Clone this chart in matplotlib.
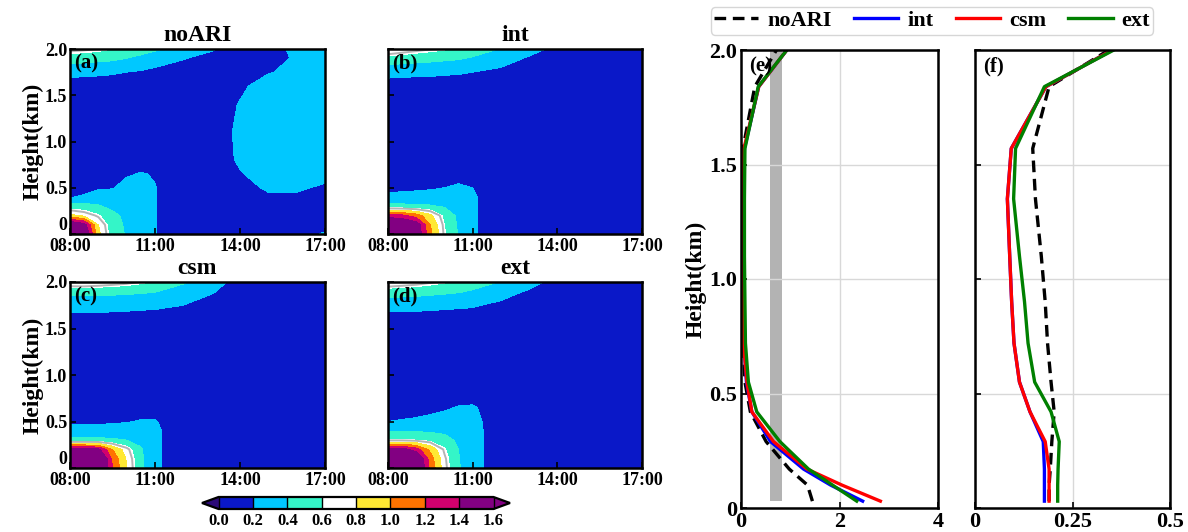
import numpy as np
import matplotlib
matplotlib.use('Agg')
import matplotlib.pyplot as plt
from matplotlib.colors import ListedColormap, BoundaryNorm

plt.rcParams['font.family'] = ['Liberation Serif', 'DejaVu Serif']
plt.rcParams['font.weight'] = 'bold'

# ---- contour panels: time (h) x height (km) ----
hours = [8, 8.5, 9, 9.5, 10, 10.5, 11, 12, 13, 14, 15, 16, 17]
zgrid = [0.0, 0.1, 0.2, 0.3, 0.4, 0.5, 0.65, 0.8, 1.1, 1.4, 1.6, 1.75, 1.9, 2.0]

noari_field = [
    [1.8, 1.7, 0.85, 0.5, 0.38, 0.3, 0.205, 0.1, 0.1, 0.1, 0.12, 0.12, 0.22],
    [1.7, 1.5, 0.8, 0.48, 0.37, 0.3, 0.205, 0.1, 0.1, 0.1, 0.12, 0.12, 0.14],
    [0.85, 0.75, 0.62, 0.45, 0.35, 0.29, 0.205, 0.1, 0.1, 0.11, 0.13, 0.13, 0.13],
    [0.5, 0.48, 0.42, 0.35, 0.32, 0.28, 0.205, 0.1, 0.1, 0.12, 0.15, 0.16, 0.14],
    [0.19, 0.22, 0.28, 0.27, 0.3, 0.28, 0.205, 0.1, 0.1, 0.13, 0.18, 0.18, 0.16],
    [0.15, 0.15, 0.18, 0.19, 0.26, 0.27, 0.205, 0.1, 0.1, 0.15, 0.22, 0.22, 0.18],
    [0.12, 0.12, 0.13, 0.15, 0.18, 0.21, 0.19, 0.1, 0.11, 0.19, 0.26, 0.27, 0.24],
    [0.1, 0.1, 0.1, 0.1, 0.12, 0.12, 0.1, 0.1, 0.12, 0.22, 0.28, 0.3, 0.28],
    [0.1, 0.1, 0.1, 0.1, 0.1, 0.1, 0.1, 0.1, 0.12, 0.23, 0.3, 0.32, 0.3],
    [0.1, 0.1, 0.1, 0.1, 0.1, 0.1, 0.1, 0.1, 0.11, 0.21, 0.3, 0.32, 0.3],
    [0.12, 0.12, 0.12, 0.11, 0.1, 0.1, 0.1, 0.1, 0.1, 0.17, 0.27, 0.3, 0.3],
    [0.25, 0.24, 0.23, 0.22, 0.2, 0.18, 0.15, 0.12, 0.1, 0.12, 0.19, 0.24, 0.28],
    [0.5, 0.48, 0.46, 0.44, 0.4, 0.36, 0.3, 0.21, 0.14, 0.1, 0.17, 0.21, 0.27],
    [0.7, 0.68, 0.65, 0.6, 0.52, 0.47, 0.43, 0.33, 0.22, 0.1, 0.15, 0.23, 0.27],
]

int_field = [
    [1.8, 1.75, 1.6, 1.05, 0.62, 0.38, 0.22, 0.1, 0.1, 0.1, 0.1, 0.1, 0.1],
    [1.75, 1.7, 1.55, 1.0, 0.6, 0.37, 0.22, 0.1, 0.1, 0.1, 0.1, 0.1, 0.1],
    [1.3, 1.25, 1.1, 0.85, 0.55, 0.35, 0.22, 0.1, 0.1, 0.1, 0.1, 0.1, 0.1],
    [0.45, 0.45, 0.44, 0.42, 0.38, 0.32, 0.22, 0.1, 0.1, 0.1, 0.1, 0.1, 0.1],
    [0.25, 0.25, 0.26, 0.27, 0.27, 0.26, 0.22, 0.1, 0.1, 0.1, 0.1, 0.1, 0.1],
    [0.15, 0.16, 0.17, 0.18, 0.2, 0.22, 0.2, 0.1, 0.1, 0.1, 0.1, 0.1, 0.1],
    [0.1, 0.1, 0.11, 0.12, 0.13, 0.15, 0.14, 0.1, 0.1, 0.1, 0.1, 0.1, 0.1],
    [0.1, 0.1, 0.1, 0.1, 0.1, 0.1, 0.1, 0.1, 0.1, 0.1, 0.1, 0.1, 0.1],
    [0.1, 0.1, 0.1, 0.1, 0.1, 0.1, 0.1, 0.1, 0.1, 0.1, 0.1, 0.1, 0.1],
    [0.1, 0.1, 0.1, 0.1, 0.1, 0.1, 0.1, 0.1, 0.1, 0.1, 0.1, 0.1, 0.1],
    [0.12, 0.12, 0.12, 0.11, 0.1, 0.1, 0.1, 0.1, 0.1, 0.1, 0.1, 0.1, 0.1],
    [0.26, 0.25, 0.24, 0.24, 0.23, 0.22, 0.2, 0.16, 0.1, 0.1, 0.1, 0.1, 0.1],
    [0.52, 0.5, 0.48, 0.46, 0.44, 0.42, 0.38, 0.28, 0.18, 0.1, 0.1, 0.1, 0.1],
    [0.82, 0.75, 0.7, 0.66, 0.62, 0.56, 0.5, 0.39, 0.27, 0.15, 0.1, 0.1, 0.1],
]

csm_field = [
    [1.9, 1.9, 1.85, 1.2, 0.8, 0.45, 0.23, 0.1, 0.1, 0.1, 0.1, 0.1, 0.1],
    [1.85, 1.85, 1.8, 1.15, 0.78, 0.44, 0.23, 0.1, 0.1, 0.1, 0.1, 0.1, 0.1],
    [1.5, 1.5, 1.45, 1.0, 0.7, 0.42, 0.23, 0.1, 0.1, 0.1, 0.1, 0.1, 0.1],
    [0.45, 0.45, 0.45, 0.43, 0.4, 0.35, 0.23, 0.1, 0.1, 0.1, 0.1, 0.1, 0.1],
    [0.26, 0.26, 0.26, 0.27, 0.27, 0.27, 0.23, 0.1, 0.1, 0.1, 0.1, 0.1, 0.1],
    [0.17, 0.17, 0.17, 0.18, 0.19, 0.21, 0.21, 0.1, 0.1, 0.1, 0.1, 0.1, 0.1],
    [0.12, 0.12, 0.12, 0.12, 0.13, 0.14, 0.14, 0.1, 0.1, 0.1, 0.1, 0.1, 0.1],
    [0.1, 0.1, 0.1, 0.1, 0.1, 0.1, 0.1, 0.1, 0.1, 0.1, 0.1, 0.1, 0.1],
    [0.1, 0.1, 0.1, 0.1, 0.1, 0.1, 0.1, 0.1, 0.1, 0.1, 0.1, 0.1, 0.1],
    [0.1, 0.1, 0.1, 0.1, 0.1, 0.1, 0.1, 0.1, 0.1, 0.1, 0.1, 0.1, 0.1],
    [0.13, 0.13, 0.13, 0.12, 0.12, 0.11, 0.11, 0.1, 0.1, 0.1, 0.1, 0.1, 0.1],
    [0.28, 0.28, 0.28, 0.27, 0.26, 0.25, 0.24, 0.2, 0.12, 0.1, 0.1, 0.1, 0.1],
    [0.45, 0.46, 0.46, 0.45, 0.44, 0.43, 0.41, 0.33, 0.22, 0.1, 0.1, 0.1, 0.1],
    [0.82, 0.82, 0.78, 0.74, 0.7, 0.64, 0.57, 0.42, 0.31, 0.1, 0.1, 0.1, 0.1],
]

ext_field = [
    [1.9, 1.9, 1.75, 1.15, 0.7, 0.42, 0.26, 0.1, 0.1, 0.1, 0.1, 0.1, 0.1],
    [1.85, 1.85, 1.7, 1.1, 0.68, 0.41, 0.26, 0.1, 0.1, 0.1, 0.1, 0.1, 0.1],
    [1.5, 1.5, 1.3, 0.95, 0.62, 0.4, 0.26, 0.1, 0.1, 0.1, 0.1, 0.1, 0.1],
    [0.62, 0.62, 0.6, 0.55, 0.48, 0.36, 0.26, 0.1, 0.1, 0.1, 0.1, 0.1, 0.1],
    [0.38, 0.38, 0.38, 0.37, 0.35, 0.31, 0.26, 0.1, 0.1, 0.1, 0.1, 0.1, 0.1],
    [0.2, 0.21, 0.22, 0.24, 0.26, 0.27, 0.25, 0.1, 0.1, 0.1, 0.1, 0.1, 0.1],
    [0.13, 0.14, 0.15, 0.16, 0.18, 0.21, 0.22, 0.1, 0.1, 0.1, 0.1, 0.1, 0.1],
    [0.1, 0.1, 0.1, 0.1, 0.1, 0.12, 0.12, 0.1, 0.1, 0.1, 0.1, 0.1, 0.1],
    [0.1, 0.1, 0.1, 0.1, 0.1, 0.1, 0.1, 0.1, 0.1, 0.1, 0.1, 0.1, 0.1],
    [0.1, 0.1, 0.1, 0.1, 0.1, 0.1, 0.1, 0.1, 0.1, 0.1, 0.1, 0.1, 0.1],
    [0.12, 0.12, 0.12, 0.12, 0.11, 0.11, 0.1, 0.1, 0.1, 0.1, 0.1, 0.1, 0.1],
    [0.27, 0.27, 0.26, 0.25, 0.24, 0.23, 0.22, 0.16, 0.1, 0.1, 0.1, 0.1, 0.1],
    [0.5, 0.49, 0.48, 0.46, 0.44, 0.42, 0.38, 0.28, 0.18, 0.1, 0.1, 0.1, 0.1],
    [0.8, 0.76, 0.72, 0.67, 0.62, 0.56, 0.5, 0.39, 0.28, 0.12, 0.1, 0.1, 0.21],
]

# ---- profiles ----
zprof = [0.03, 0.1, 0.17, 0.29, 0.42, 0.55, 0.72, 0.9, 1.1, 1.35, 1.57, 1.84, 2.0]
e_noari = [1.45, 1.35, 0.98, 0.51, 0.19, 0.08, 0.05, 0.04, 0.03, 0.03, 0.04, 0.28, 0.72]
e_int = [2.47, 1.82, 1.27, 0.6, 0.22, 0.11, 0.06, 0.04, 0.03, 0.03, 0.07, 0.36, 0.93]
e_csm = [2.83, 2.05, 1.34, 0.66, 0.22, 0.12, 0.05, 0.03, 0.02, 0.02, 0.06, 0.36, 0.93]
e_ext = [2.35, 1.86, 1.37, 0.79, 0.32, 0.15, 0.09, 0.08, 0.07, 0.07, 0.08, 0.35, 0.93]

f_noari = [0.19, 0.19, 0.193, 0.197, 0.203, 0.195, 0.186, 0.18, 0.17, 0.155, 0.148, 0.19, 0.343]
f_int = [0.178, 0.178, 0.178, 0.175, 0.141, 0.114, 0.1, 0.094, 0.089, 0.083, 0.093, 0.182, 0.352]
f_csm = [0.19, 0.19, 0.19, 0.18, 0.141, 0.114, 0.1, 0.094, 0.089, 0.083, 0.093, 0.182, 0.352]
f_ext = [0.212, 0.212, 0.213, 0.216, 0.195, 0.153, 0.136, 0.127, 0.114, 0.099, 0.104, 0.178, 0.356]

band = [0.59, 0.83]   # grey reference band in (e)

levels = [0.0, 0.2, 0.4, 0.6, 0.8, 1.0, 1.2, 1.4, 1.6]
cols = ['#0a18c8', '#00c8ff', '#34f5c8', '#ffffff', '#ffe833', '#ff7300', '#d2006e', '#820082']
cmap = ListedColormap(cols)
cmap.set_under('#2c0a78')
cmap.set_over('#820082')
norm = BoundaryNorm(levels, cmap.N)

W, H = 1188, 532
fig = plt.figure(figsize=(W / 100, H / 100), dpi=100)


def px(l, t, r, b):
    return [l / W, 1 - b / H, (r - l) / W, (b - t) / H]


panels = [
    (noari_field, 'noARI', '(a)', px(70, 49, 325, 234), True),
    (int_field, 'int', '(b)', px(388, 49, 642, 234), False),
    (csm_field, 'csm', '(c)', px(70, 282, 325, 468), True),
    (ext_field, 'ext', '(d)', px(388, 282, 642, 468), False),
]

for field, title, tag, rect, left in panels:
    ax = fig.add_axes(rect)
    data = np.array(field)
    cf = ax.contourf(hours, zgrid, data, levels=levels, cmap=cmap, norm=norm, extend='both')
    ax.contour(hours, zgrid, data, levels=[0.65], colors='#b4b4b4', linewidths=1.4)
    ax.set_xlim(8, 17)
    ax.set_ylim(0, 2)
    ax.set_xticks([8, 11, 14, 17])
    ax.set_xticklabels(['08:00', '11:00', '14:00', '17:00'])
    ax.set_yticks([0, 0.5, 1.0, 1.5, 2.0])
    if left:
        ax.set_yticklabels(['0', '0.5', '1.0', '1.5', '2.0'])
        ax.set_ylabel('Height(km)', fontsize=17, fontweight='bold', labelpad=1)
        # lift the "0" a little so it sits clear of "08:00"
        ax.yaxis.get_major_ticks()[0].label1.set_verticalalignment('bottom')
    else:
        ax.set_yticklabels([])
    ax.tick_params(direction='in', length=4, width=1.2, labelsize=13)
    ax.tick_params(axis='x', pad=3)
    ax.tick_params(axis='y', pad=2)
    for s in ax.spines.values():
        s.set_linewidth(1.8)
    ax.set_title(title, fontsize=17, fontweight='bold', pad=6)
    ax.text(0.015, 0.975, tag, transform=ax.transAxes, fontsize=15, fontweight='bold',
            va='top', ha='left')

cax = fig.add_axes(px(202, 497, 510, 509))
cb = fig.colorbar(cf, cax=cax, orientation='horizontal', ticks=levels,
                  extendfrac=0.06, drawedges=True)
cb.ax.set_xticklabels([f'{v:.1f}' for v in levels])
cb.ax.tick_params(length=0, labelsize=12, pad=3)
cb.outline.set_linewidth(1.6)
cb.dividers.set_linewidth(1.0)

# ---- profile panels ----
axe = fig.add_axes(px(741, 50, 938, 508))
axf = fig.add_axes(px(975, 50, 1170, 508))

axe.axvspan(band[0], band[1], ymin=0.015, ymax=1, color='#a0a0a0', alpha=0.8, lw=0)
for ax, series, xmax, xt, xtl, tag in [
        (axe, (e_noari, e_int, e_csm, e_ext), 4, [0, 2, 4], ['0', '2', '4'], '(e)'),
        (axf, (f_noari, f_int, f_csm, f_ext), 0.5, [0, 0.25, 0.5], ['0', '0.25', '0.5'], '(f)')]:
    ax.plot(series[0], zprof, color='k', ls=(0, (3.5, 2)), lw=2.4, label='noARI')
    ax.plot(series[1], zprof, color='#0000ff', lw=2.4, label='int')
    ax.plot(series[2], zprof, color='#ff0000', lw=2.4, label='csm')
    ax.plot(series[3], zprof, color='#008000', lw=2.4, label='ext')
    ax.set_xlim(0, xmax)
    ax.set_ylim(0, 2)
    ax.set_xticks(xt)
    ax.set_xticklabels(xtl)
    ax.set_yticks([0, 0.5, 1.0, 1.5, 2.0])
    ax.grid(color='#d8d8d8', lw=1.0)
    ax.tick_params(direction='in', length=4, width=1.2, labelsize=16, pad=3)
    for s in ax.spines.values():
        s.set_linewidth(1.8)
    ax.text(0.04, 0.985, tag, transform=ax.transAxes, fontsize=15, fontweight='bold',
            va='top', ha='left')

axe.set_yticklabels(['0', '0.5', '1.0', '1.5', '2.0'])
axe.set_ylabel('Height(km)', fontsize=17, fontweight='bold', labelpad=2)
axf.set_yticklabels([])

handles, labels = axe.get_legend_handles_labels()
fig.legend(handles, labels, loc='center', bbox_to_anchor=(932 / W, 1 - 21 / H), ncol=4,
           frameon=True, handlelength=2.0, columnspacing=1.0,
           handletextpad=0.4, borderpad=0.15, edgecolor='#cccccc', fancybox=True,
           prop={'weight': 'bold', 'size': 16})

fig.savefig('out.png', dpi=100)
